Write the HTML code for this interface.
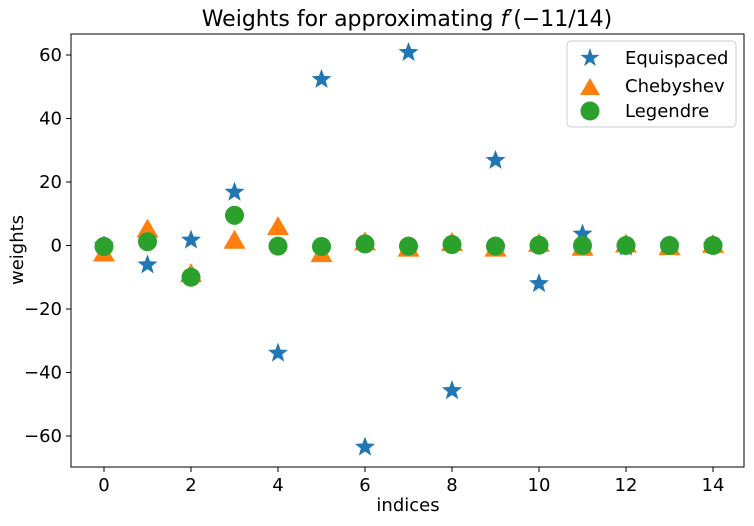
<!DOCTYPE html>
<html><head><meta charset="utf-8"><style>
body{margin:0;background:#fff}
text{font-family:"DejaVu Sans","Liberation Sans",sans-serif}
</style></head><body>
<svg id="chart" width="754" height="521" xmlns="http://www.w3.org/2000/svg">
<rect width="754" height="521" fill="#fff"/>
<text x="407" y="26" font-size="22" text-anchor="middle">Weights for approximating <tspan font-style="italic">f</tspan>′(−11/14)</text>
<g id="axes"></g>
<g id="marks"></g>
<rect x="71" y="34" width="673" height="433" fill="none" stroke="#000" stroke-width="1"/>
<text x="408" y="511" font-size="18" text-anchor="middle">indices</text>
<text x="23" y="250" font-size="18" text-anchor="middle" transform="rotate(-90 23 250)">weights</text>
<g>
<rect x="567" y="41" width="169" height="86" rx="4" fill="#fff" stroke="#ccc"/>
<text x="590" y="66" text-anchor="middle" font-size="25" fill="#1f77b4">★</text>
<text x="625" y="64" font-size="18">Equispaced</text>
<polygon points="590,78 600,95 580,95" fill="#ff7f0e"/>
<text x="625" y="92" font-size="18">Chebyshev</text>
<circle cx="590" cy="111" r="9.5" fill="#2ca02c"/>
<text x="625" y="117" font-size="18">Legendre</text>
</g>
</svg>
<script>
const indices=[0,1,2,3,4,5,6,7,8,9,10,11,12,13,14];
const equispaced=[0,-6.1,1.7,16.8,-33.9,52.3,-63.5,60.8,-45.7,26.8,-12,3.6,-0.5,0,0];
const chebyshev=[-2.5,5,-9,1.5,5.8,-2.7,1,-1,0.8,-1,0.5,-0.7,0.3,-0.5,0.2];
const legendre=[-0.3,1.2,-10,9.5,-0.2,-0.3,0.5,-0.2,0.3,-0.2,0.1,0,0,0,0];
const xTicks=[0,2,4,6,8,10,12,14];
const yTicks=[-60,-40,-20,0,20,40,60];
const X=v=>104+v*43.5, Y=v=>245.5-v*3.175;
const NS="http://www.w3.org/2000/svg";
const ax=document.getElementById('axes'), mk=document.getElementById('marks');
function el(t,a,p){const e=document.createElementNS(NS,t);for(const k in a)e.setAttribute(k,a[k]);p.appendChild(e);return e;}
xTicks.forEach(t=>{
 const l=el('line',{x1:X(t),x2:X(t),y1:467,y2:472,stroke:'#000'},ax);
 
 
 const tx=el('text',{x:X(t),y:491,'font-size':18,'text-anchor':'middle'},ax);tx.textContent=t;
 
 
});
yTicks.forEach(t=>{
 const l=el('line',{x1:66,x2:71,y1:Y(t),y2:Y(t),stroke:'#000'},ax);
 
 
 const tx=el('text',{x:62,y:Y(t)+6,'font-size':18,'text-anchor':'end'},ax);tx.textContent=t<0?'−'+(-t):t;
 
 
});
function star(cx,cy,R){let p=[];for(let i=0;i<10;i++){const r=i%2?R*0.42:R;const a=-Math.PI/2+i*Math.PI/5;p.push((cx+r*Math.cos(a)).toFixed(1)+','+(cy+r*Math.sin(a)).toFixed(1));}return p.join(' ');}
indices.forEach((d,i)=>{
 const s=el('polygon',{points:star(X(d),Y(equispaced[i]),10.5),fill:'#1f77b4'},mk);
 
 
});
indices.forEach((d,i)=>{
 const x=X(d),y=Y(chebyshev[i]);
 const t=el('polygon',{points:`${x},${y-11} ${x+11},${y+8} ${x-11},${y+8}`,fill:'#ff7f0e'},mk);
 
 
});
indices.forEach((d,i)=>{
 const c=el('circle',{cx:X(d),cy:Y(legendre[i]),r:9.5,fill:'#2ca02c'},mk);
 
 
});
</script>
</body></html>
